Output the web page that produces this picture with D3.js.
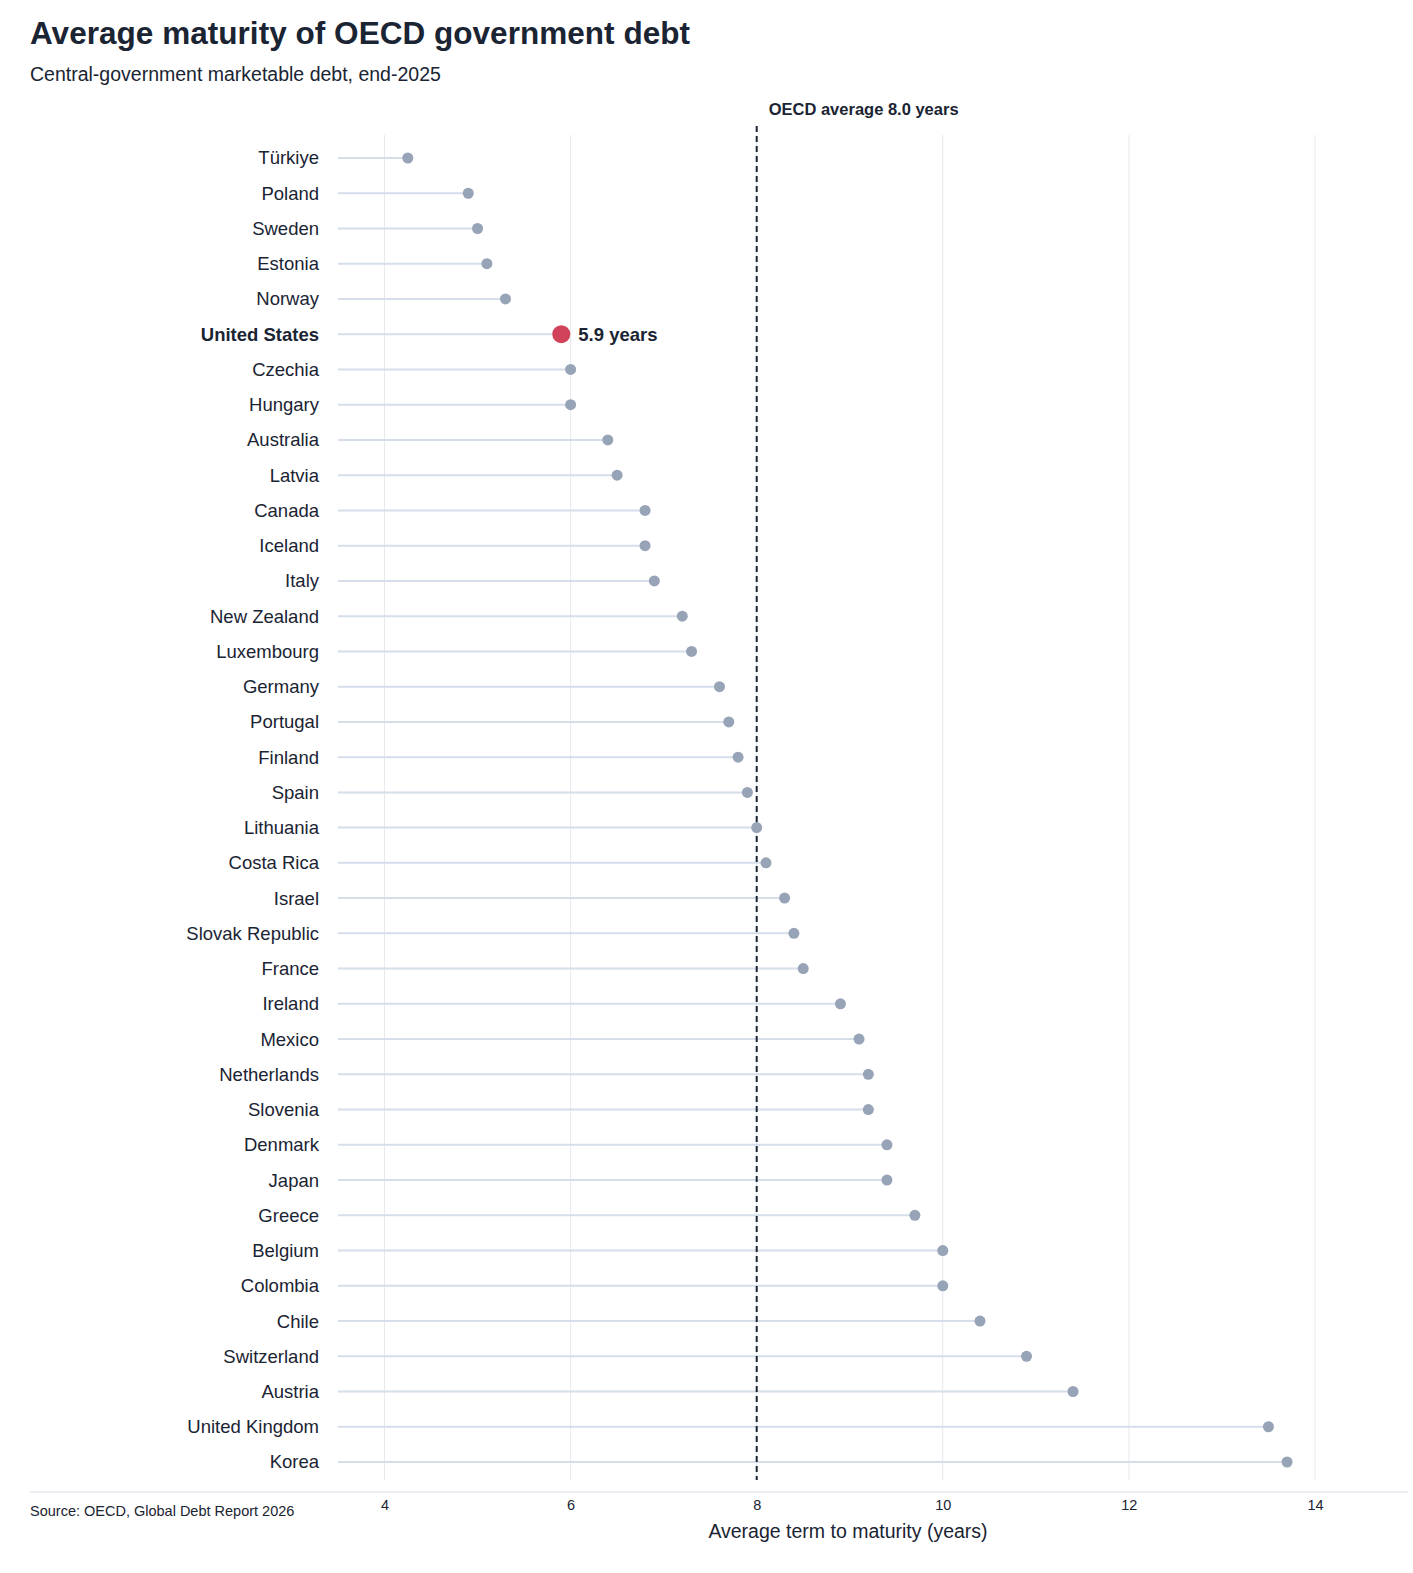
<!DOCTYPE html>
<html><head><meta charset="utf-8">
<script src="https://cdn.jsdelivr.net/npm/d3@7"></script>
<style>body{margin:0;background:#fff;font-family:"Liberation Sans",Arial,sans-serif;}</style>
</head><body><svg id="chart" width="1413" height="1573"></svg>
<script>
var data = [
  ["Türkiye",4.25],["Poland",4.9],["Sweden",5.0],["Estonia",5.1],["Norway",5.3],
  ["United States",5.9],["Czechia",6.0],["Hungary",6.0],["Australia",6.4],["Latvia",6.5],
  ["Canada",6.8],["Iceland",6.8],["Italy",6.9],["New Zealand",7.2],["Luxembourg",7.3],
  ["Germany",7.6],["Portugal",7.7],["Finland",7.8],["Spain",7.9],["Lithuania",8.0],
  ["Costa Rica",8.1],["Israel",8.3],["Slovak Republic",8.4],["France",8.5],["Ireland",8.9],
  ["Mexico",9.1],["Netherlands",9.2],["Slovenia",9.2],["Denmark",9.4],["Japan",9.4],
  ["Greece",9.7],["Belgium",10.0],["Colombia",10.0],["Chile",10.4],["Switzerland",10.9],
  ["Austria",11.4],["United Kingdom",13.5],["Korea",13.7]
].map(function(d){ return {country:d[0], value:d[1]}; });
var avg = 8.0;

var svg = d3.select("#chart");
var x = d3.scaleLinear().domain([3.5, 15]).range([338, 1408]);
var y = d3.scalePoint().domain(data.map(d => d.country)).range([158, 1462]);

svg.append("text").attr("x",30).attr("y",44).attr("font-size",31.5).attr("font-weight","bold")
  .attr("fill","#1a2433").attr("textLength",660).text("Average maturity of OECD government debt");
svg.append("text").attr("x",30).attr("y",81).attr("font-size",19.5).attr("fill","#1a2433")
  .text("Central-government marketable debt, end-2025");

// gridlines
svg.selectAll(".grid").data([4,6,8,10,12,14]).enter().append("line")
  .attr("x1",d=>x(d)).attr("x2",d=>x(d)).attr("y1",135).attr("y2",1480)
  .attr("stroke","#e6e9ee").attr("stroke-width",1);

// stems
svg.selectAll(".stem").data(data).enter().append("line")
  .attr("x1",x(3.5)).attr("x2",d=>x(d.value)).attr("y1",d=>y(d.country)).attr("y2",d=>y(d.country))
  .attr("stroke","#d6deea").attr("stroke-width",2);

// average line
svg.append("line").attr("x1",x(avg)).attr("x2",x(avg)).attr("y1",126).attr("y2",1480)
  .attr("stroke","#1a2433").attr("stroke-width",2).attr("stroke-dasharray","6,4");
svg.append("text").attr("x",x(avg)+12).attr("y",115).attr("font-size",16.5).attr("font-weight","bold")
  .attr("fill","#1a2433").text("OECD average 8.0 years");

// dots
svg.selectAll(".dot").data(data).enter().append("circle")
  .attr("cx",d=>x(d.value)).attr("cy",d=>y(d.country))
  .attr("r",d=>d.country=="United States"?9:5.5)
  .attr("fill",d=>d.country=="United States"?"#d1435b":"#97a3b6");

svg.selectAll(".lab").data(data).enter().append("text")
  .attr("x",319).attr("y",d=>y(d.country)).attr("dy","0.35em").attr("text-anchor","end")
  .attr("font-size",18.5).attr("fill","#1a2433")
  .attr("font-weight",d=>d.country=="United States"?"bold":"normal")
  .text(d=>d.country);

var us = data.find(d=>d.country=="United States");
svg.append("text").attr("x",x(us.value)+17).attr("y",y(us.country)).attr("dy","0.35em")
  .attr("font-size",18.5).attr("font-weight","bold").attr("fill","#1a2433").text(us.value.toFixed(1)+" years");

// axis
svg.append("line").attr("x1",30).attr("x2",1408).attr("y1",1492).attr("y2",1492).attr("stroke","#d6dbe3");
var ax = svg.append("g").attr("transform","translate(0,1492)")
  .call(d3.axisBottom(x).tickValues([4,6,8,10,12,14]).tickSize(0).tickPadding(8));
ax.select(".domain").remove();
ax.selectAll("text").attr("font-size",14.5).attr("fill","#1a2433").attr("font-family","Liberation Sans, Arial, sans-serif");
svg.append("text").attr("x",848).attr("y",1538).attr("text-anchor","middle").attr("font-size",19.5)
  .attr("fill","#1a2433").text("Average term to maturity (years)");
svg.append("text").attr("x",30).attr("y",1516).attr("font-size",14.5).attr("fill","#1a2433")
  .text("Source: OECD, Global Debt Report 2026");
</script></body></html>
